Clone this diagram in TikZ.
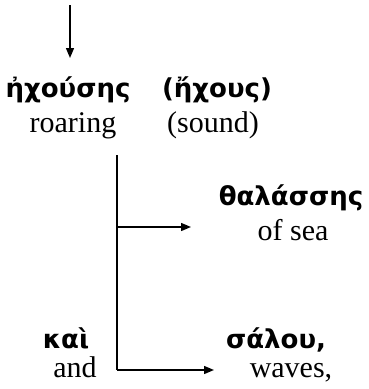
\documentclass[tikz,border=0pt]{standalone}
\usepackage{fontspec}
\setmainfont{Liberation Serif}
\newfontfamily\grk{DejaVu Sans}
\usetikzlibrary{arrows.meta}
\tikzset{
  gk/.style={font=\grk\bfseries\fontsize{26}{30}\selectfont, inner sep=0pt, anchor=base},
  en/.style={font=\fontsize{30}{34}\selectfont, inner sep=0pt, anchor=base},
  link/.style={line width=1.4pt, -{Triangle[length=10pt,width=8pt]}},
  trunk/.style={line width=1.4pt}
}
\begin{document}
\begin{tikzpicture}[x=1pt,y=-1pt]
\useasboundingbox (0,0) rectangle (368,389);
% heading word and its gloss
\node[gk] (w1) at (68,97) {ἠχούσης};
\node[gk] (w1b) at (217,97) {(ἤχους)};
\node[en] (e1) at (73,132) {roaring};
\node[en] (e1b) at (213,132) {(sound)};
% incoming arrow
\coordinate (top) at (70,5);
\coordinate (topend) at (70,58);
\draw[link] (top) -- (topend);
% dependent words
\node[gk] (w2) at (291,205) {θαλάσσης};
\node[en] (e2) at (293,240) {of sea};
\node[gk] (w3) at (66,348) {καὶ};
\node[en] (e3) at (75,377) {and};
\node[gk] (w4) at (276,348) {σάλου,};
\node[en] (e4) at (291,377) {waves,};
% trunk and branches
\coordinate (t0) at (117,155);
\coordinate (t1) at (117,227);
\coordinate (t2) at (117,370);
\coordinate (b1) at (191,227);
\coordinate (b2) at (214,370);
\draw[trunk] (t0) -- (t2);
\draw[link] (t1) -- (b1);
\draw[link] (t2) -- (b2);
\end{tikzpicture}
\end{document}
